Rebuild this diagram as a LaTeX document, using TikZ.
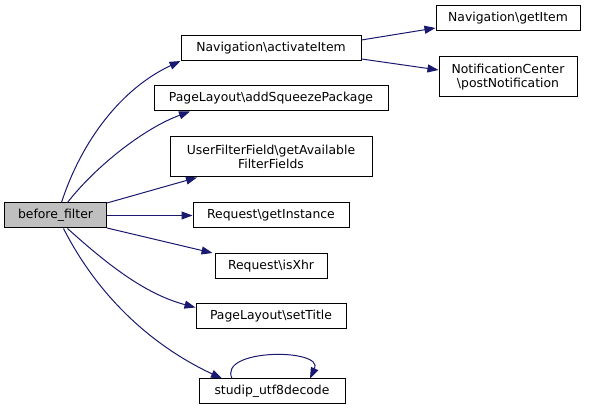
\documentclass[tikz,border=0pt]{standalone}
\usepackage{fontspec}
\setmainfont{DejaVu Sans}
\usetikzlibrary{arrows.meta}
\definecolor{edgeblue}{HTML}{191970}
\definecolor{callergray}{HTML}{BFBFBF}

\begin{document}
\begin{tikzpicture}[x=1pt, y=1pt,
    fn/.style={draw, line width=1pt, minimum width=#1, minimum height=25,
               inner sep=0pt, align=center, font=\fontsize{12.4}{14.5}\selectfont},
    call/.style={draw=edgeblue, line width=1pt,
                 -{Triangle[length=11pt, width=8pt]}, edgeblue}]
    \useasboundingbox (0,0) rectangle (589,411);

    % Caller
    \node[fn=102, fill=callergray] (bf) at (55.5, 195.5) {before\_filter};

    % Direct callees
    \node[fn=180] (act) at (271, 363) {Navigation\textbackslash activateItem};
    \node[fn=234] (sq)  at (271, 312.5) {PageLayout\textbackslash addSqueezePackage};
    \node[fn=202, minimum height=40] (uff) at (271, 254)
        {UserFilterField\textbackslash getAvailable\\FilterFields};
    \node[fn=156] (gi)  at (271, 195.5) {Request\textbackslash getInstance};
    \node[fn=112] (xhr) at (271, 145) {Request\textbackslash isXhr};
    \node[fn=150] (st)  at (271, 94.5) {PageLayout\textbackslash setTitle};
    \node[fn=146] (utf) at (272, 19.5) {studip\_utf8decode};

    % Callees of activateItem
    \node[fn=144] (git) at (508, 393) {Navigation\textbackslash getItem};
    \node[fn=138, minimum height=40] (pn) at (508, 334)
        {NotificationCenter\\\textbackslash postNotification};

    % Calls from before_filter
    \draw[call] ([xshift=6]bf.north) to[out=72, in=205, looseness=0.9] (act.south west);
    \draw[call] ([xshift=12]bf.north) to[out=52, in=200, looseness=0.8] ([xshift=-81]sq.south);
    \draw[call] ([yshift=12.5]bf.east) -- ([xshift=-74]uff.south);
    \draw[call] (bf.east) -- (gi.west);
    \draw[call] ([yshift=-12.5]bf.east) -- ([xshift=-2]xhr.north west);
    \draw[call] ([xshift=12]bf.south) to[out=-42, in=165, looseness=0.9] ([yshift=9]st.west);
    \draw[call] ([xshift=8]bf.south) to[out=-63, in=155, looseness=0.9] ([xshift=-50]utf.north);

    % Recursive call
    \draw[call] ([xshift=-40]utf.north) to[out=115, in=65, looseness=1.1] ([xshift=38]utf.north);

    % Calls from activateItem
    \draw[call] ([yshift=8]act.east) -- ([yshift=-10]git.west);
    \draw[call] ([yshift=-11]act.east) -- ([yshift=7]pn.west);
\end{tikzpicture}
\end{document}
